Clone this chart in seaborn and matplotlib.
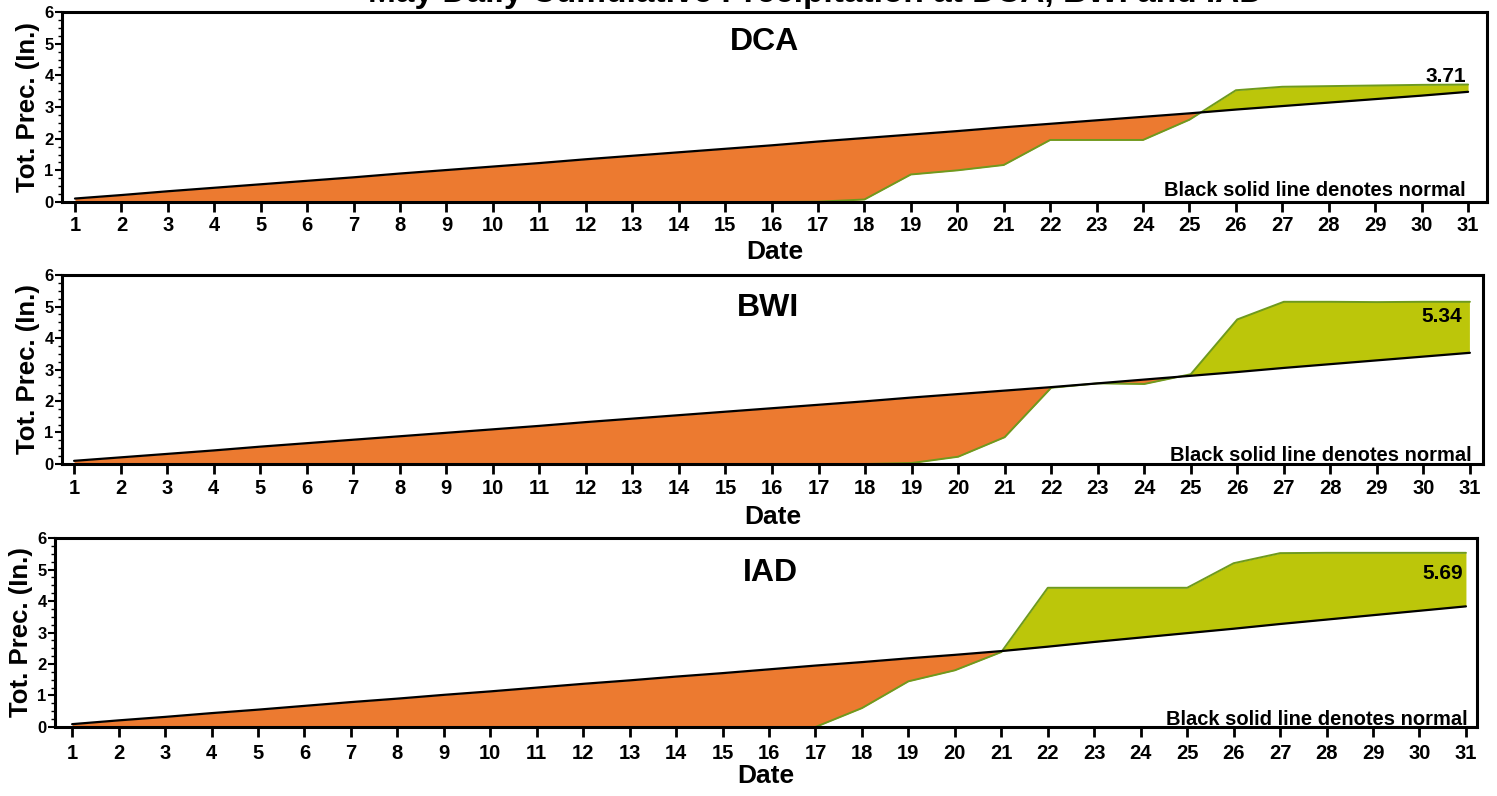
import matplotlib
matplotlib.use("Agg")
import matplotlib.pyplot as plt
import seaborn as sns
import pandas as pd
from matplotlib.ticker import MultipleLocator

# ---------------- data ----------------
days = list(range(1, 32))

dca_obs = [0, 0, 0, 0, 0, 0, 0, 0, 0, 0, 0, 0, 0, 0, 0, 0, 0.01, 0.08, 0.87,
           1.00, 1.17, 1.96, 1.96, 1.96, 2.60, 3.53, 3.64, 3.66, 3.68, 3.70, 3.71]
dca_norm = [0.11, 0.22, 0.34, 0.45, 0.56, 0.67, 0.78, 0.90, 1.01, 1.12, 1.23,
            1.35, 1.46, 1.57, 1.68, 1.79, 1.91, 2.02, 2.13, 2.24, 2.36, 2.47,
            2.58, 2.69, 2.80, 2.92, 3.03, 3.14, 3.25, 3.36, 3.48]

bwi_obs = [0, 0, 0, 0, 0, 0, 0, 0, 0, 0, 0, 0, 0, 0, 0, 0, 0, 0, 0.03,
           0.23, 0.85, 2.42, 2.56, 2.54, 2.85, 4.59, 5.15, 5.15, 5.14, 5.15, 5.15]
bwi_norm = [0.10, 0.21, 0.32, 0.43, 0.55, 0.66, 0.77, 0.88, 0.99, 1.10, 1.21,
            1.33, 1.44, 1.55, 1.66, 1.77, 1.88, 1.99, 2.11, 2.22, 2.33, 2.44,
            2.56, 2.68, 2.80, 2.92, 3.05, 3.17, 3.29, 3.41, 3.53]

iad_obs = [0, 0, 0, 0, 0, 0, 0, 0, 0, 0, 0, 0, 0, 0, 0, 0, 0, 0.60, 1.45,
           1.80, 2.38, 4.42, 4.42, 4.42, 4.42, 5.20, 5.52, 5.53, 5.53, 5.53, 5.53]
iad_norm = [0.09, 0.21, 0.32, 0.44, 0.55, 0.67, 0.79, 0.90, 1.02, 1.13, 1.25,
            1.37, 1.48, 1.60, 1.71, 1.83, 1.95, 2.06, 2.18, 2.29, 2.41, 2.55,
            2.70, 2.84, 2.98, 3.12, 3.27, 3.41, 3.55, 3.69, 3.83]

stations = ["DCA", "BWI", "IAD"]
totals = ["3.71", "5.34", "5.69"]
title = "May Daily Cumulative Precipitation at DCA, BWI and IAD"

# ---------------- style ----------------
sns.set_theme(style="ticks")
plt.rcParams["font.family"] = ["Liberation Sans", "DejaVu Sans"]
plt.rcParams["font.weight"] = "bold"
plt.rcParams["text.color"] = "black"
plt.rcParams["axes.labelcolor"] = "black"
plt.rcParams["xtick.color"] = "black"
plt.rcParams["ytick.color"] = "black"

orange = "#EC7A30"
lime = "#BCC60A"
edge = "#6E9A1E"

fig = plt.figure(figsize=(14.97, 7.96), dpi=100)

# axes rectangles (figure fraction) and x-limits per panel
rects = [[0.0414, 0.7462, 0.9520, 0.2387],
         [0.0414, 0.4171, 0.9492, 0.2374],
         [0.0367, 0.0867, 0.9500, 0.2374]]
xlims = [(0.72, 31.41), (0.74, 31.28), (0.63, 31.24)]
name_pos = [(0.493, 0.84), (0.497, 0.826), (0.503, 0.815)]
note_pos = [(0.985, 0.063), (0.992, 0.045), (0.993, 0.042)]
total_pos = [(0.985, 0.66), (0.985, 0.78), (0.99, 0.81)]
tick_pads = [3, 4, 5]
date_pads = [4, 5, 1]

obs_all = [dca_obs, bwi_obs, iad_obs]
norm_all = [dca_norm, bwi_norm, iad_norm]

for i in range(3):
    ax = fig.add_axes(rects[i])
    df = pd.DataFrame({"day": days, "obs": obs_all[i], "norm": norm_all[i]})

    ax.fill_between(df["day"], df["obs"], df["norm"],
                    where=df["obs"] <= df["norm"], interpolate=True,
                    color=orange, lw=0, zorder=1)
    ax.fill_between(df["day"], df["obs"], df["norm"],
                    where=df["obs"] >= df["norm"], interpolate=True,
                    color=lime, lw=0, zorder=1)
    sns.lineplot(data=df, x="day", y="obs", color=edge, lw=1.4, ax=ax, zorder=2)
    sns.lineplot(data=df, x="day", y="norm", color="black", lw=1.6, ax=ax, zorder=3)

    ax.set_xlim(*xlims[i])
    ax.set_ylim(0, 6)
    ax.set_xticks(days)
    ax.set_yticks(range(0, 7))
    ax.yaxis.set_minor_locator(MultipleLocator(0.25))
    ax.tick_params(axis="x", labelsize=14.5, length=7, width=2, pad=tick_pads[i])
    ax.tick_params(axis="y", which="major", labelsize=12, length=5, width=1.5, pad=1)
    ax.tick_params(axis="y", which="minor", length=3, width=1)
    for lab in ax.get_xticklabels() + ax.get_yticklabels():
        lab.set_fontweight("bold")
    for sp in ax.spines.values():
        sp.set_linewidth(2.2)
        sp.set_color("black")

    ax.set_xlabel("Date", fontsize=19, fontweight="bold", labelpad=date_pads[i])
    ax.set_ylabel("Tot. Prec. (In.)", fontsize=18.5, fontweight="bold", labelpad=3)

    ax.text(*name_pos[i], stations[i], transform=ax.transAxes, ha="center",
            va="center", fontsize=23, fontweight="bold")
    ax.text(*note_pos[i], "Black solid line denotes normal", transform=ax.transAxes,
            ha="right", va="center", fontsize=14.5, fontweight="bold")
    ax.text(*total_pos[i], totals[i], transform=ax.transAxes, ha="right",
            va="center", fontsize=15, fontweight="bold")

# the title is clipped by the top edge in the original scan
fig.text(0.545, 0.997, title, ha="center", va="baseline",
         fontsize=24, fontweight="bold")

fig.savefig("out.png", dpi=100)
plt.close(fig)
